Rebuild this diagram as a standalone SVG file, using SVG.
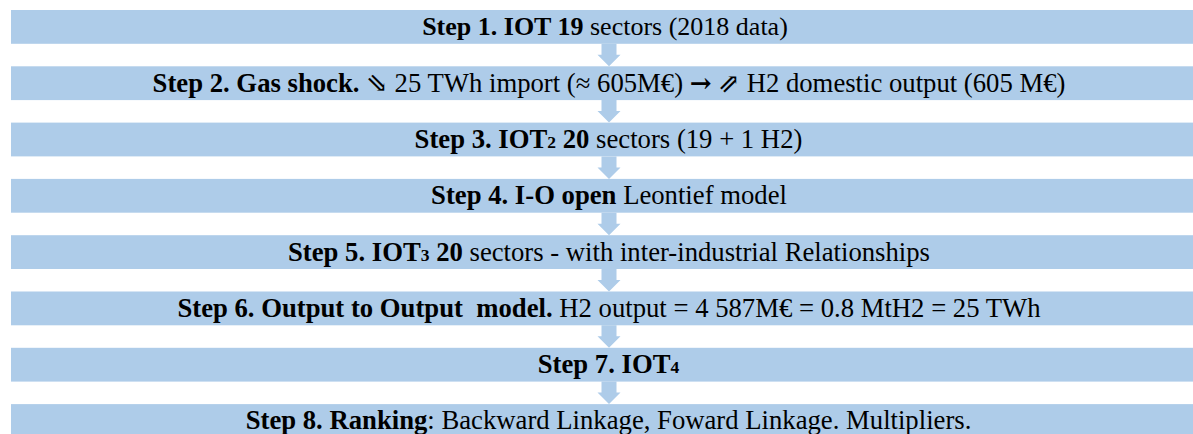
<svg xmlns="http://www.w3.org/2000/svg" width="1193" height="434" viewBox="0 0 1193 434">
<style>
.bar{fill:#aecce9}
.arr{fill:#aecce9}
.t{font-family:'Liberation Serif','Times New Roman','DejaVu Serif',serif;font-size:26.7px;fill:#000;text-anchor:middle}
.b{font-weight:bold}
.s{font-size:17.5px;font-weight:bold}
.sym{font-family:'DejaVu Serif','DejaVu Sans',serif;font-size:26px}
</style>
<defs>
<path id="dn" d="M-7.5 0 H7.5 V11 H11.5 L0 22.5 L-11.5 11 H-7.5 Z"/>
</defs>
<g id="connectors" class="arr">
<use href="#dn" x="609" y="43.8"/>
<use href="#dn" x="609" y="100.1"/>
<use href="#dn" x="609" y="156.4"/>
<use href="#dn" x="609" y="212.7"/>
<use href="#dn" x="609" y="269"/>
<use href="#dn" x="609" y="325.3"/>
<use href="#dn" x="609" y="381.6"/>
</g>
<g id="step1"><rect class="bar" x="11" y="10" width="1182" height="33.8"/>
<text class="t" style="font-size:26px" x="605" y="35.3"><tspan class="b">Step 1. IOT 19</tspan> sectors (2018 data)</text></g>
<g id="step2"><rect class="bar" x="11" y="66.3" width="1182" height="33.8"/>
<text class="t" x="609" y="91.6"><tspan class="b">Step 2. Gas shock.</tspan> <tspan class="sym">⇘</tspan> 25 TWh import (≈ 605M€) <tspan class="sym b">→</tspan> <tspan class="sym">⇗</tspan> H2 domestic output (605 M€)</text></g>
<g id="step3"><rect class="bar" x="11" y="122.6" width="1182" height="33.8"/>
<text class="t" x="608.5" y="147.9"><tspan class="b">Step 3. IOT</tspan><tspan class="s">2</tspan><tspan class="b"> 20</tspan> sectors (19 + 1 H2)</text></g>
<g id="step4"><rect class="bar" x="11" y="178.9" width="1182" height="33.8"/>
<text class="t" x="609" y="204.2"><tspan class="b">Step 4. I-O open</tspan> Leontief model</text></g>
<g id="step5"><rect class="bar" x="11" y="235.2" width="1182" height="33.8"/>
<text class="t" x="609" y="260.8"><tspan class="b">Step 5. IOT</tspan><tspan class="s">3</tspan><tspan class="b"> 20</tspan> sectors - with inter-industrial Relationships</text></g>
<g id="step6"><rect class="bar" x="11" y="291.5" width="1182" height="33.8"/>
<text class="t" x="609" y="316.8" xml:space="preserve"><tspan class="b">Step 6. Output to Output  model.</tspan> H2 output = 4 587M€ = 0.8 MtH2 = 25 TWh</text></g>
<g id="step7"><rect class="bar" x="11" y="347.8" width="1182" height="33.8"/>
<text class="t" x="608.5" y="373.1"><tspan class="b">Step 7. IOT</tspan><tspan class="s">4</tspan></text></g>
<g id="step8"><rect class="bar" x="11" y="404.1" width="1182" height="33.8"/>
<text class="t" x="608.5" y="429.2"><tspan class="b">Step 8. Ranking</tspan>: Backward Linkage, Foward Linkage. Multipliers.</text></g>
</svg>
